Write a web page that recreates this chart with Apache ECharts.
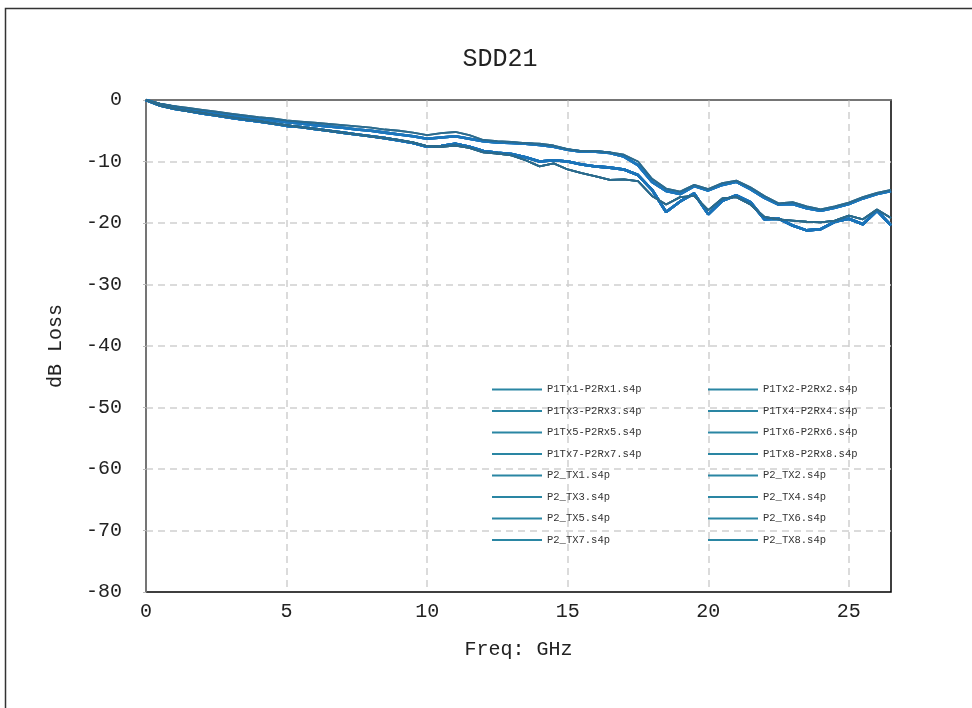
<!DOCTYPE html>
<html>
<head>
<meta charset="utf-8">
<script src="https://cdn.jsdelivr.net/npm/echarts@6/dist/echarts.min.js"></script>
<style>
html,body{margin:0;padding:0;background:#fff;}
#chart{width:972px;height:708px;}
</style>
</head>
<body>
<div id="chart"></div>
<script>
// Frequency samples (GHz)
const freq = [0,0.5,1,1.5,2,2.5,3,3.5,4,4.5,5,5.5,6,6.5,7,7.5,8,8.5,9,9.5,10,10.5,11,11.5,12,12.5,13,13.5,14,14.5,15,15.5,16,16.5,17,17.5,18,18.5,19,19.5,20,20.5,21,21.5,22,22.5,23,23.5,24,24.5,25,25.5,26,26.5];

// Curve shapes (dB)
const curveA = [0,-0.6,-1.0,-1.3,-1.6,-1.9,-2.2,-2.5,-2.8,-3.0,-3.3,-3.5,-3.7,-3.9,-4.1,-4.3,-4.5,-4.8,-5.0,-5.3,-5.7,-5.4,-5.2,-5.7,-6.5,-6.7,-6.8,-7.0,-7.1,-7.4,-8.0,-8.3,-8.3,-8.5,-8.9,-10.0,-12.8,-14.4,-14.9,-13.8,-14.5,-13.5,-13.1,-14.2,-15.6,-16.8,-16.6,-17.3,-17.8,-17.3,-16.7,-15.8,-15.1,-14.6];
const curveD = [0,-0.7,-1.1,-1.5,-1.8,-2.1,-2.4,-2.7,-3.0,-3.3,-3.6,-3.8,-4.1,-4.3,-4.5,-4.8,-5.0,-5.3,-5.6,-5.9,-6.3,-6.1,-5.9,-6.3,-6.7,-6.9,-7.0,-7.1,-7.3,-7.6,-8.1,-8.4,-8.4,-8.6,-9.2,-10.6,-13.3,-14.8,-15.3,-14.0,-14.7,-13.8,-13.3,-14.5,-15.9,-17.0,-16.9,-17.6,-18.0,-17.5,-16.9,-16.0,-15.3,-14.8];
const curveB = [0,-0.9,-1.4,-1.8,-2.2,-2.5,-2.9,-3.2,-3.5,-3.8,-4.2,-4.4,-4.7,-5.0,-5.3,-5.6,-5.9,-6.2,-6.6,-7.0,-7.6,-7.5,-7.1,-7.6,-8.3,-8.6,-8.8,-9.3,-10.0,-9.8,-10.0,-10.5,-10.8,-11.0,-11.3,-12.2,-14.6,-18.2,-16.5,-15.2,-18.6,-16.4,-15.5,-16.6,-19.4,-19.3,-20.4,-21.2,-21.0,-19.8,-19.3,-20.2,-18.0,-20.4];
const curveC = [0,-0.9,-1.4,-1.8,-2.1,-2.5,-2.8,-3.1,-3.4,-3.8,-4.1,-4.4,-4.7,-5.0,-5.3,-5.6,-5.9,-6.2,-6.5,-6.9,-7.5,-7.6,-7.4,-7.8,-8.5,-8.7,-9.0,-9.8,-10.8,-10.3,-11.3,-11.9,-12.4,-13.0,-12.9,-13.2,-15.6,-17.0,-15.8,-15.6,-17.9,-16.0,-15.8,-17.0,-19.0,-19.4,-19.6,-19.8,-19.9,-19.6,-18.8,-19.4,-17.8,-19.2];

// Legend columns (series names)
const namesLeft = ['P1Tx1-P2Rx1.s4p','P1Tx3-P2Rx3.s4p','P1Tx5-P2Rx5.s4p','P1Tx7-P2Rx7.s4p','P2_TX1.s4p','P2_TX3.s4p','P2_TX5.s4p','P2_TX7.s4p'];
const namesRight = ['P1Tx2-P2Rx2.s4p','P1Tx4-P2Rx4.s4p','P1Tx6-P2Rx6.s4p','P1Tx8-P2Rx8.s4p','P2_TX2.s4p','P2_TX4.s4p','P2_TX6.s4p','P2_TX8.s4p'];
// Which curve each series follows (in order: left column then right column)
const curveOfSeries = ['B','D','B','C','A','B','D','C','B','D','C','B','D','C','A','B'];

// Axis ticks
const yTicks = [0,-10,-20,-30,-40,-50,-60,-70,-80];
const xTicks = [0,5,10,15,20,25];

const curves = {A: curveA, B: curveB, C: curveC, D: curveD};
const curveColor = {A: '#2b6b8e', B: '#1a73b9', C: '#2a6a8c', D: '#1c76bc'};

const allNames = namesLeft.concat(namesRight);
const series = allNames.map((nm, i) => {
  const key = curveOfSeries[i];
  const c = curves[key];
  return {
    name: nm,
    type: 'line',
    showSymbol: false,
    symbol: 'none',
    smooth: false,
    lineStyle: {width: (key === 'A' || key === 'C') ? 1.8 : 2.6, color: curveColor[key]},
    itemStyle: {color: '#2a86a3'},
    data: freq.map((f, j) => [f, c[j]]),
    z: (key === 'A' || key === 'C') ? 3 : 2
  };
});

const mono = 'Liberation Mono, DejaVu Sans Mono, monospace';
const legendBase = {
  orient: 'vertical',
  itemWidth: 50,
  itemHeight: 2,
  itemGap: 8.5,
  icon: 'rect',
  textStyle: {fontFamily: mono, fontSize: 10.5, color: '#333', lineHeight: 13},
  inactiveColor: '#ccc'
};

const chart = echarts.init(document.getElementById('chart'), null, {renderer: 'canvas'});
chart.setOption({
  animation: false,
  backgroundColor: '#fff',
  title: {
    text: 'SDD21',
    left: 495, top: 42, textAlign: 'center',
    textStyle: {fontFamily: mono, fontSize: 25, fontWeight: 'normal', color: '#222'}
  },
  graphic: [{
    type: 'rect', silent: true, z: -10,
    shape: {x: 5.5, y: 8.5, width: 1000, height: 800},
    style: {fill: null, stroke: '#333', lineWidth: 1.5}
  }],
  legend: [
    Object.assign({}, legendBase, {data: namesLeft, left: 487, top: 378}),
    Object.assign({}, legendBase, {data: namesRight, left: 703, top: 378})
  ],
  grid: {
    left: 146, top: 100, right: 81, bottom: 116,
    show: true, borderColor: '#000', borderWidth: 1.5, backgroundColor: 'transparent'
  },
  xAxis: {
    type: 'value', min: 0, max: 26.5, interval: 5,
    name: 'Freq: GHz', nameLocation: 'middle', nameGap: 48,
    nameTextStyle: {fontFamily: mono, fontSize: 20, color: '#222'},
    axisLine: {show: true, lineStyle: {color: '#888', width: 1.5}},
    axisTick: {show: false},
    axisLabel: {fontFamily: mono, fontSize: 20, color: '#222', margin: 10, showMaxLabel: false,
      formatter: v => (xTicks.indexOf(v) >= 0 ? String(v) : '')},
    splitLine: {show: true, showMinLine: false, showMaxLine: false,
      lineStyle: {color: '#cfcfcf', width: 1.5, type: [7, 5]}}
  },
  yAxis: {
    type: 'value', min: -80, max: 0, interval: 10,
    name: 'dB Loss', nameLocation: 'middle', nameGap: 80, nameRotate: 90,
    nameTextStyle: {fontFamily: mono, fontSize: 20, color: '#222'},
    axisLine: {show: true, lineStyle: {color: '#888', width: 1.5}},
    axisTick: {show: true, inside: false, length: 3, lineStyle: {color: '#bbb'}},
    axisLabel: {fontFamily: mono, fontSize: 20, color: '#222', margin: 24,
      formatter: v => (yTicks.indexOf(v) >= 0 ? String(v) : '')},
    splitLine: {show: true, showMinLine: false, showMaxLine: false,
      lineStyle: {color: '#cfcfcf', width: 1.5, type: [7, 5]}}
  },
  series: series
});
</script>
</body>
</html>
